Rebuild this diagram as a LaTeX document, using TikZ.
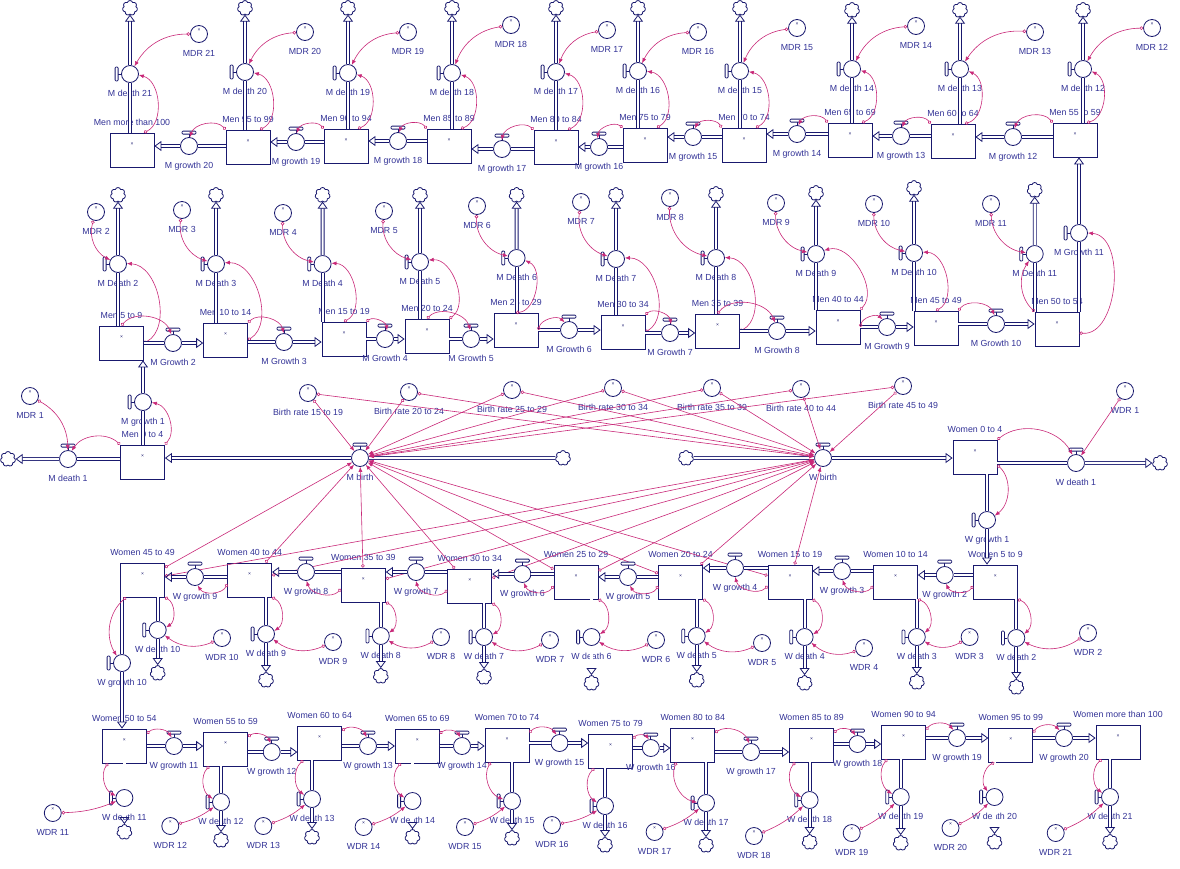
\documentclass[tikz,border=0pt]{standalone}
\usepackage{fontspec}
\setmainfont{Liberation Sans}
\usepackage{tikz}
\usetikzlibrary{arrows.meta,shapes.symbols,calc}

\definecolor{vline}{RGB}{25,25,110}
\definecolor{vtext}{RGB}{50,50,150}
\definecolor{vlink}{RGB}{200,40,120}

\tikzset{
  lbl/.style={font=\fontsize{8.8}{9}\selectfont, text=vtext, inner sep=1pt},
  xm/.style={font=\fontsize{5}{5}\selectfont, text=vline, inner sep=0pt},
  stock/.style={draw=vline, fill=white, line width=0.8pt, minimum width=44, minimum height=34, inner sep=0pt,
    label={[xm,yshift=6pt]center:×}, label={[lbl,label distance=6pt]above:#1}},
  rate/.style={circle, draw=vline, fill=white, line width=0.8pt, minimum size=17, inner sep=0pt,
    label={[lbl,label distance=6pt]below:#1}},
  aux/.style={rate=#1, label={[xm,yshift=4pt]center:×}},
  sink/.style={cloud, cloud puffs=7, aspect=1, draw=vline, fill=white, line width=0.8pt,
    minimum width=15, minimum height=15, inner sep=0pt},
  pipe/.style={draw=vline, double=white, double distance=2.2pt, line width=0.8pt},
  flowtip/.style={-{Triangle[open,length=7pt,width=10pt]}},
  link/.style={draw=vlink, line width=0.6pt, {Circle[open,length=3.5pt,width=3.5pt]}-{Latex[length=5pt,width=4pt]}},
  valvebar/.style={draw=vline, fill=white, line width=0.8pt, rounded corners=1pt},
  bulgeR/.style={bend right=#1},
  bulgeL/.style={bend left=#1}
}
\newcommand{\valvetop}[1]{%
  \draw[vline, line width=0.8pt] (#1.north) -- ([yshift=3pt]#1.north);
  \draw[valvebar] ([shift={(-7pt,3pt)}]#1.north) rectangle ([shift={(7pt,6pt)}]#1.north);}
\newcommand{\valveleft}[1]{%
  \draw[vline, line width=0.8pt] (#1.west) -- ([xshift=-3pt]#1.west);
  \draw[valvebar] ([shift={(-6pt,-7pt)}]#1.west) rectangle ([shift={(-3pt,7pt)}]#1.west);}

\begin{document}
\begin{tikzpicture}[x=1pt, y=-1pt]
    \useasboundingbox (0,0) rectangle (1180,868);

    % Stocks
    \foreach \n/\lab/\x/\y in {m100/Men more than 100/132/150, m95/Men 95 to 99/248/147, m90/Men 90 to 94/346/146,
        m85/Men 85 to 89/449/146, m80/Men 80 to 84/556/147, m75/Men 75 to 79/645/145, m70/Men 70 to 74/744/145,
        m65/Men 65 to 69/850/140, m60/Men 60 to 64/953/141, m55/Men 55 to 59/1075/140,
        m5/Men 5 to 9/121.5/343, m10/Men 10 to 14/225.6/340, m15/Men 15 to 19/344/339, m20/Men 20 to 24/427/336,
        m25/Men 25 to 29/516/330, m30/Men 30 to 34/623/332, m35/Men 35 to 39/717.6/331, m40/Men 40 to 44/838/327,
        m45/Men 45 to 49/936/328, m50/Men 50 to 54/1057/329,
        m0/Men 0 to 4/142.5/462, w0/Women 0 to 4/975/457,
        w5/Women 5 to 9/995.4/582, w10/Women 10 to 14/895.5/582, w15/Women 15 to 19/790/582, w20/Women 20 to 24/680.5/582,
        w25/Women 25 to 29/576/582, w30/Women 30 to 34/469.8/586, w35/Women 35 to 39/363.4/585,
        w40/Women 40 to 44/249.7/580, w45/Women 45 to 49/142.5/580,
        w50/Women 50 to 54/124.4/746, w55/Women 55 to 59/225.6/749, w60/Women 60 to 64/319.7/743,
        w65/Women 65 to 69/417.3/746, w70/Women 70 to 74/507/745, w75/Women 75 to 79/610.6/751,
        w80/Women 80 to 84/692.7/745, w85/Women 85 to 89/811.5/745, w90/Women 90 to 94/903.6/742,
        w95/Women 95 to 99/1010.7/745, w100/Women more than 100/1118/742} {
        \node[stock=\lab] (\n) at (\x,\y) {};
    }

    % Men 55 and over: deaths
    \foreach \k/\s/\x/\y/\cy/\ax/\ay in {21/m100/130/74/8/199/34, 20/m95/245/72/8/305/32, 19/m90/348/73/8/408/32,
        18/m85/452/73/8/511/25, 17/m80/556/72/8/607/30, 16/m75/638/71/8/698/32, 15/m70/740/71/8/797/28,
        14/m65/852/69/10/916/26, 13/m60/960/69/10/1035/32, 12/m55/1083/69/10/1152/28} {
        \node[rate=M death \k] (md\k) at (\x,\y) {};
        \valveleft{md\k}
        \node[sink] (cmd\k) at (\x,\cy) {};
        \node[aux=MDR \k] (mdr\k) at (\ax,\ay) {};
        \draw[pipe] (md\k |- \s.north) -- (md\k);
        \draw[pipe,flowtip] (md\k) -- (cmd\k);
        \draw[link] (mdr\k) to[bulgeR=30] (md\k);
        \draw[link] ([xshift=12pt]\s.north) to[bulgeR=70] (md\k);
    }
    % Men 55 and over: growth
    \foreach \k/\s/\t/\x/\y in {20/m95/m100/189/146, 19/m90/m95/296/142, 18/m85/m90/398/141, 17/m80/m85/502/149,
        16/m75/m80/599/147, 15/m70/m75/693/137, 14/m65/m70/797/134, 13/m60/m65/901/136, 12/m55/m60/1013/137} {
        \node[rate=M growth \k] (mg\k) at (\x,\y) {};
        \valvetop{mg\k}
        \draw[pipe] (mg\k -| \s.west) -- (mg\k);
        \draw[pipe,flowtip] (mg\k) -- (mg\k -| \t.east);
        \draw[link] (\s.north west) to[bulgeR=60] (mg\k);
    }

    % Men 5 to 54: deaths
    \foreach \k/\s/\x/\y/\cy/\ax/\ay/\da in {2/m5/118/264/195/96/212/east, 3/m10/216/264/195/182/210/east,
        4/m15/322.6/264/195/283/213/north, 5/m20/420/262/195/384/211/north east, 6/m25/516.6/258/195/477/206/north,
        7/m30/616/259/195/581/202/east, 8/m35/716/258/194/670/198/east, 9/m40/816/254/193/776/203/north east,
        10/m45/914/253/188/874/204/north, 11/m50/1034.7/254/190/991/204/north west} {
        \node[rate=M Death \k] (md\k) at (\x,\y) {};
        \valveleft{md\k}
        \node[sink] (cmd\k) at (\x,\cy) {};
        \node[aux=MDR \k] (mdr\k) at (\ax,\ay) {};
        \draw[pipe] (md\k |- \s.north) -- (md\k);
        \draw[pipe,flowtip] (md\k) -- (cmd\k);
        \draw[link] (mdr\k) to[bulgeR=40] (md\k);
        \ifnum\k<11 \draw[link] (\s.\da) to[bulgeR=75] (md\k); \fi
    }
    \draw[link] (m50.north west) to[bulgeL=40] (md11);
    % Men 5 to 54: growth
    \foreach \k/\s/\t/\x/\y/\sa in {2/m5/m10/173/343/north, 3/m10/m15/284/342/north east, 4/m15/m20/385/339/north east,
        5/m20/m25/471/339/north, 6/m25/m30/569/330/east, 7/m30/m35/670/333/north east, 8/m35/m40/777/331/north,
        9/m40/m45/887/327/east, 10/m45/m50/996/324/north east} {
        \node[rate=M Growth \k] (mg\k) at (\x,\y) {};
        \valvetop{mg\k}
        \draw[pipe] (mg\k -| \s.east) -- (mg\k);
        \draw[pipe,flowtip] (mg\k) -- (mg\k -| \t.west);
        \draw[link] (\s.\sa) to[bulgeL=60] (mg\k);
    }
    \node[rate=M Growth 11] (mg11) at (1079,233) {};
    \valveleft{mg11}
    \draw[pipe] (mg11 |- m50.north) -- (mg11);
    \draw[pipe,flowtip] (mg11) -- (mg11 |- m55.south);
    \draw[link] ([yshift=-4pt]m50.east) to[bulgeR=90] (mg11);

    % Births
    \node[aux=MDR 1] (mdr1) at (30,396) {};
    \node[rate=M death 1] (md1) at (68,459) {};
    \valvetop{md1}
    \node[sink] (cmd1) at (8,459) {};
    \node[rate=M growth 1] (mg1) at (143,402) {};
    \valveleft{mg1}
    \node[rate=M birth] (mbirth) at (360,458) {};
    \valvetop{mbirth}
    \node[sink] (cmb) at (563,458) {};
    \node[rate=W birth] (wbirth) at (823,458) {};
    \valvetop{wbirth}
    \node[sink] (cwb) at (686,458) {};
    \node[rate=W death 1] (wd1) at (1076,463) {};
    \valvetop{wd1}
    \node[sink] (cwd1) at (1160,463) {};
    \node[aux=WDR 1] (wdr1) at (1125,391) {};
    \node[rate=W growth 1] (wg1) at (987,520) {};
    \valveleft{wg1}
    \foreach \b/\x/\y in {15/308/393, 20/409/392, 25/512/390, 30/613/388, 35/712/388, 40/801/389, 45/903/386} {
        \node[aux=Birth rate \b\ to \the\numexpr\b+4\relax] (br\b) at (\x,\y) {};
    }

    \draw[pipe] (md1 -| m0.west) -- (md1);
    \draw[pipe,flowtip] (md1) -- (cmd1);
    \draw[pipe] (mg1 |- m0.north) -- (mg1);
    \draw[pipe,flowtip] (mg1) -- (mg1 |- m5.south);
    \draw[pipe] (cmb) -- (mbirth);
    \draw[pipe,flowtip] (mbirth) -- (mbirth -| m0.east);
    \draw[pipe] (cwb) -- (wbirth);
    \draw[pipe,flowtip] (wbirth) -- (wbirth -| w0.west);
    \draw[pipe] (wd1 -| w0.east) -- (wd1);
    \draw[pipe,flowtip] (wd1) -- (cwd1);
    \draw[pipe] (wg1 |- w0.south) -- (wg1);
    \draw[pipe,flowtip] (wg1) -- (wg1 |- w5.north);

    \draw[link] (mdr1) to[bulgeL=30] (md1);
    \draw[link] (m0.north west) to[bulgeR=50] (md1);
    \draw[link] (m0.north east) to[bulgeR=60] (mg1);
    \draw[link] (w0.north east) to[bulgeL=50] (wd1);
    \draw[link] (wdr1) -- (wd1);
    \draw[link] ([yshift=-8pt]w0.east) to[bulgeL=50] (wg1);
    \foreach \b in {15,20,...,45} {
        \draw[link] (br\b) -- (mbirth);
        \draw[link] (br\b) -- (wbirth);
        \draw[link] (w\b) -- (mbirth);
        \draw[link] (w\b) -- (wbirth);
    }

    % Women 5 to 49
    \foreach \k/\s/\t/\x/\y in {2/w5/w10/944.7/575, 3/w10/w15/842/571, 4/w15/w20/735/568, 5/w20/w25/628/577,
        6/w25/w30/522.4/574, 7/w30/w35/416/572, 8/w35/w40/306/572, 9/w40/w45/195/577} {
        \node[rate=W growth \k] (wg\k) at (\x,\y) {};
        \valvetop{wg\k}
        \draw[pipe] (wg\k -| \s.west) -- (wg\k);
        \draw[pipe,flowtip] (wg\k) -- (wg\k -| \t.east);
        \draw[link] ([yshift=-4pt]\s.west) to[bulgeL=60] (wg\k);
    }
    \foreach \k/\s/\x/\y/\cy/\ax/\ay in {10/w45/157.7/630/673/222/638, 9/w40/266/634/680/333/642,
        8/w35/380.8/636/676/441/637, 7/w30/484/637/677/550/640, 6/w25/591.5/637/683/656/640,
        5/w20/696.7/636/680/762/643, 4/w15/804.6/637/683/864/648, 3/w10/916.8/637/682/969.6/637,
        2/w5/1016.3/638/687/1088/633} {
        \node[rate=W death \k] (wd\k) at (\x,\y) {};
        \valveleft{wd\k}
        \node[sink] (cwd\k) at (\x,\cy) {};
        \node[aux=WDR \k] (wdr\k) at (\ax,\ay) {};
        \draw[pipe] (wd\k |- \s.south) -- (wd\k);
        \draw[pipe,flowtip] (wd\k) -- (cwd\k);
        \draw[link] (\s.south east) to[bulgeL=60] (wd\k);
        \draw[link] (wdr\k) to[bulgeL=30] (wd\k);
    }
    \node[rate=W growth 10] (wg10) at (122,663) {};
    \valveleft{wg10}
    \draw[pipe] (wg10 |- w45.south) -- (wg10);
    \draw[pipe,flowtip] (wg10) -- (wg10 |- w50.north);
    \draw[link] ([xshift=6pt]w45.south west) to[bulgeR=40] (wg10);

    % Women 50 and over
    \foreach \k/\s/\t/\x/\y in {11/w50/w55/174/746, 12/w55/w60/271.7/752, 13/w60/w65/368/746, 14/w65/w70/462/746,
        15/w70/w75/559.5/743, 16/w75/w80/650.8/748, 17/w80/w85/751/752, 18/w85/w90/857.5/744,
        19/w90/w95/957/738, 20/w95/w100/1064/738} {
        \node[rate=W growth \k] (wg\k) at (\x,\y) {};
        \valvetop{wg\k}
        \draw[pipe] (wg\k -| \s.east) -- (wg\k);
        \draw[pipe,flowtip] (wg\k) -- (wg\k -| \t.west);
        \draw[link] ([yshift=-5pt]\s.north east) to[bulgeL=50] (wg\k);
    }
    \foreach \k/\s/\x/\y/\cy/\ax/\ay in {11/w50/124.4/798/832/52.8/813, 12/w55/221/802/840/170.3/826,
        13/w60/312/799/837/263.3/826, 14/w65/412.5/801/837/363.6/827, 15/w70/512/801/838/465/827,
        16/w75/605/806/845/552/825, 17/w80/706/803/845/654.6/832, 18/w85/809.6/800/842/754/836,
        19/w90/900.7/797/843/851.7/833, 20/w95/994.5/797/842/950.5/828, 21/w100/1110/797/842/1055.7/833} {
        \node[rate=W death \k] (wd\k) at (\x,\y) {};
        \valveleft{wd\k}
        \node[sink] (cwd\k) at (\x,\cy) {};
        \node[aux=WDR \k] (wdr\k) at (\ax,\ay) {};
        \draw[pipe] (wd\k |- \s.south) -- (wd\k);
        \draw[pipe,flowtip] (wd\k) -- (cwd\k);
        \draw[link] ([xshift=6pt]\s.south west) to[bulgeR=50] (wd\k);
        \draw[link] (wdr\k) to[bulgeR=10] (wd\k);
    }
\end{tikzpicture}
\end{document}
